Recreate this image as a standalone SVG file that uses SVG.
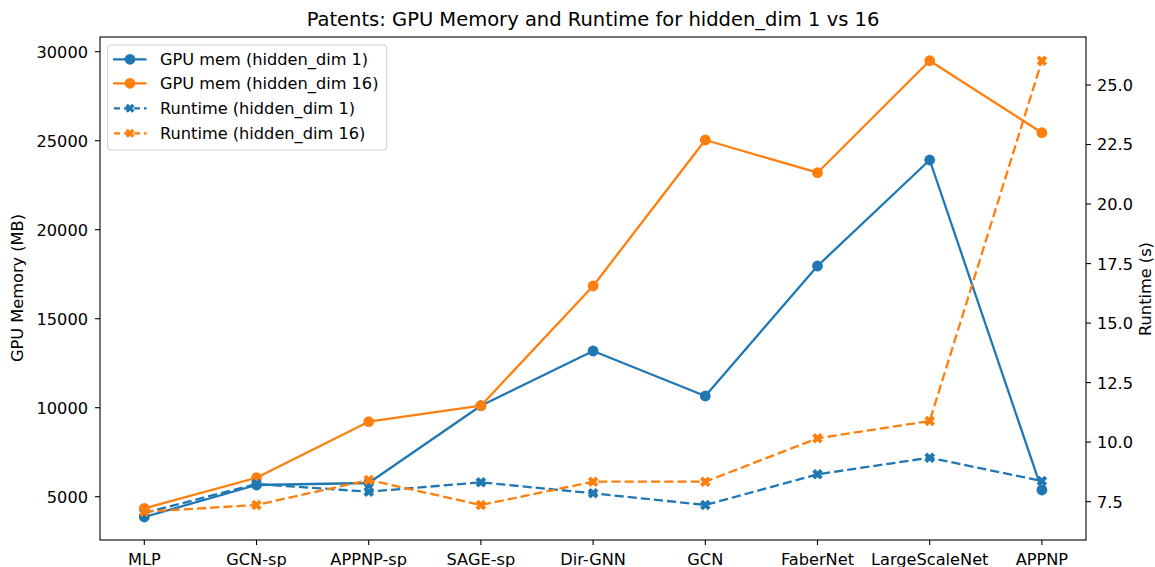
<svg xmlns="http://www.w3.org/2000/svg" xmlns:xlink="http://www.w3.org/1999/xlink" width="1155" height="567" viewBox="0 0 1155 567">
<style>
text{font-family:"DejaVu Sans",sans-serif;fill:#000}
.tick{font-size:16.2px}
.title{font-size:19.5px}
.lbl{font-size:16.2px}
.spine{stroke:#000;stroke-width:1.1;fill:none}
.tk{stroke:#000;stroke-width:1.1}
.solid{fill:none;stroke-width:2.3;stroke-linejoin:round}
.dash{fill:none;stroke-width:2.3;stroke-dasharray:9.2 4;stroke-linejoin:round}
.blue{stroke:#1f77b4;fill:#1f77b4}
.orange{stroke:#ff7f0e;fill:#ff7f0e}
</style>
<defs>
<circle id="dot" r="5.4" stroke="none"/>
<path id="xm" d="M-3.9,-3.9 L3.9,3.9 M-3.9,3.9 L3.9,-3.9" stroke-width="4" fill="none" stroke-linecap="butt"/>
</defs>
<rect width="1155" height="567" fill="#fff"/>
<text class="title" x="593" y="26" text-anchor="middle">Patents: GPU Memory and Runtime for hidden_dim 1 vs 16</text>

<g id="axes">
<rect class="spine" x="100" y="37" width="986" height="503"/>
<g id="left-ticks">
<line class="tk" x1="95" y1="51.7" x2="100" y2="51.7"/>
<line class="tk" x1="95" y1="140.7" x2="100" y2="140.7"/>
<line class="tk" x1="95" y1="229.7" x2="100" y2="229.7"/>
<line class="tk" x1="95" y1="318.7" x2="100" y2="318.7"/>
<line class="tk" x1="95" y1="407.7" x2="100" y2="407.7"/>
<line class="tk" x1="95" y1="496.7" x2="100" y2="496.7"/>
<text class="tick" x="88" y="57.6" text-anchor="end">30000</text>
<text class="tick" x="88" y="146.6" text-anchor="end">25000</text>
<text class="tick" x="88" y="235.6" text-anchor="end">20000</text>
<text class="tick" x="88" y="324.6" text-anchor="end">15000</text>
<text class="tick" x="88" y="413.6" text-anchor="end">10000</text>
<text class="tick" x="88" y="502.6" text-anchor="end">5000</text>
</g>
<g id="right-ticks">
<line class="tk" x1="1086" y1="85" x2="1091" y2="85"/>
<line class="tk" x1="1086" y1="144.5" x2="1091" y2="144.5"/>
<line class="tk" x1="1086" y1="204" x2="1091" y2="204"/>
<line class="tk" x1="1086" y1="263.6" x2="1091" y2="263.6"/>
<line class="tk" x1="1086" y1="323.1" x2="1091" y2="323.1"/>
<line class="tk" x1="1086" y1="382.6" x2="1091" y2="382.6"/>
<line class="tk" x1="1086" y1="442.1" x2="1091" y2="442.1"/>
<line class="tk" x1="1086" y1="501.7" x2="1091" y2="501.7"/>
<text class="tick" x="1097" y="90.9">25.0</text>
<text class="tick" x="1097" y="150.4">22.5</text>
<text class="tick" x="1097" y="209.9">20.0</text>
<text class="tick" x="1097" y="269.5">17.5</text>
<text class="tick" x="1097" y="329">15.0</text>
<text class="tick" x="1097" y="388.5">12.5</text>
<text class="tick" x="1097" y="448">10.0</text>
<text class="tick" x="1097" y="507.6">7.5</text>
</g>
<g id="x-ticks">
<line class="tk" x1="144.3" y1="540" x2="144.3" y2="545"/>
<line class="tk" x1="256.5" y1="540" x2="256.5" y2="545"/>
<line class="tk" x1="368.7" y1="540" x2="368.7" y2="545"/>
<line class="tk" x1="480.9" y1="540" x2="480.9" y2="545"/>
<line class="tk" x1="593.1" y1="540" x2="593.1" y2="545"/>
<line class="tk" x1="705.3" y1="540" x2="705.3" y2="545"/>
<line class="tk" x1="817.5" y1="540" x2="817.5" y2="545"/>
<line class="tk" x1="929.7" y1="540" x2="929.7" y2="545"/>
<line class="tk" x1="1041.9" y1="540" x2="1041.9" y2="545"/>
<text class="tick" x="144.3" y="565" text-anchor="middle">MLP</text>
<text class="tick" x="256.5" y="565" text-anchor="middle">GCN-sp</text>
<text class="tick" x="368.7" y="565" text-anchor="middle">APPNP-sp</text>
<text class="tick" x="480.9" y="565" text-anchor="middle">SAGE-sp</text>
<text class="tick" x="593.1" y="565" text-anchor="middle">Dir-GNN</text>
<text class="tick" x="705.3" y="565" text-anchor="middle">GCN</text>
<text class="tick" x="817.5" y="565" text-anchor="middle">FaberNet</text>
<text class="tick" x="929.7" y="565" text-anchor="middle">LargeScaleNet</text>
<text class="tick" x="1041.9" y="565" text-anchor="middle">APPNP</text>
</g>
<text class="lbl" transform="translate(23,288) rotate(-90)" text-anchor="middle">GPU Memory (MB)</text>
<text class="lbl" transform="translate(1151,289) rotate(-90)" text-anchor="middle">Runtime (s)</text>
</g>

<g id="connectors">
<g id="gpu-hd1" class="blue">
<polyline class="solid blue" style="fill:none" points="144.3,517 256.5,485 368.7,483 480.9,405.7 593.1,351 705.3,396 817.5,266 929.7,160 1041.9,490"/>
<use xlink:href="#dot" x="144.3" y="517"/><use xlink:href="#dot" x="256.5" y="485"/><use xlink:href="#dot" x="368.7" y="483"/><use xlink:href="#dot" x="480.9" y="405.7"/><use xlink:href="#dot" x="593.1" y="351"/><use xlink:href="#dot" x="705.3" y="396"/><use xlink:href="#dot" x="817.5" y="266"/><use xlink:href="#dot" x="929.7" y="160"/><use xlink:href="#dot" x="1041.9" y="490"/>
</g>
<g id="gpu-hd16" class="orange">
<polyline class="solid orange" style="fill:none" points="144.3,508.3 256.5,477.7 368.7,421.7 480.9,405.7 593.1,286 705.3,140 817.5,172.7 929.7,60.7 1041.9,132.7"/>
<use xlink:href="#dot" x="144.3" y="508.3"/><use xlink:href="#dot" x="256.5" y="477.7"/><use xlink:href="#dot" x="368.7" y="421.7"/><use xlink:href="#dot" x="480.9" y="405.7"/><use xlink:href="#dot" x="593.1" y="286"/><use xlink:href="#dot" x="705.3" y="140"/><use xlink:href="#dot" x="817.5" y="172.7"/><use xlink:href="#dot" x="929.7" y="60.7"/><use xlink:href="#dot" x="1041.9" y="132.7"/>
</g>
<g id="rt-hd1" class="blue">
<polyline class="dash blue" style="fill:none" points="144.3,513 256.5,484 368.7,491.7 480.9,482.3 593.1,493.3 705.3,505 817.5,474.3 929.7,457.7 1041.9,481"/>
<use xlink:href="#xm" x="144.3" y="513"/><use xlink:href="#xm" x="256.5" y="484"/><use xlink:href="#xm" x="368.7" y="491.7"/><use xlink:href="#xm" x="480.9" y="482.3"/><use xlink:href="#xm" x="593.1" y="493.3"/><use xlink:href="#xm" x="705.3" y="505"/><use xlink:href="#xm" x="817.5" y="474.3"/><use xlink:href="#xm" x="929.7" y="457.7"/><use xlink:href="#xm" x="1041.9" y="481"/>
</g>
<g id="rt-hd16" class="orange">
<polyline class="dash orange" style="fill:none" points="144.3,511.7 256.5,505 368.7,480 480.9,505 593.1,481.7 705.3,481.7 817.5,438.3 929.7,421 1041.9,60.7"/>
<use xlink:href="#xm" x="144.3" y="511.7"/><use xlink:href="#xm" x="256.5" y="505"/><use xlink:href="#xm" x="368.7" y="480"/><use xlink:href="#xm" x="480.9" y="505"/><use xlink:href="#xm" x="593.1" y="481.7"/><use xlink:href="#xm" x="705.3" y="481.7"/><use xlink:href="#xm" x="817.5" y="438.3"/><use xlink:href="#xm" x="929.7" y="421"/><use xlink:href="#xm" x="1041.9" y="60.7"/>
</g>
</g>

<g id="legend">
<rect x="107.7" y="45" width="279" height="105" rx="3" fill="#fff" fill-opacity="0.8" stroke="#cccccc" stroke-width="1"/>
<g class="blue"><line class="solid" x1="113" y1="59.3" x2="146.5" y2="59.3"/><use xlink:href="#dot" x="130" y="59.3"/></g>
<g class="orange"><line class="solid" x1="113" y1="83.3" x2="146.5" y2="83.3"/><use xlink:href="#dot" x="130" y="83.3"/></g>
<g class="blue"><line class="dash" x1="113" y1="108.3" x2="146.5" y2="108.3" style="stroke-dasharray:6 4;stroke-dashoffset:-1"/><use xlink:href="#xm" x="130" y="108.3" transform="translate(130,108.3) scale(0.85) translate(-130,-108.3)"/></g>
<g class="orange"><line class="dash" x1="113" y1="133.3" x2="146.5" y2="133.3" style="stroke-dasharray:6 4;stroke-dashoffset:-1"/><use xlink:href="#xm" x="130" y="133.3" transform="translate(130,133.3) scale(0.85) translate(-130,-133.3)"/></g>
<text class="lbl" x="160" y="65.1">GPU mem (hidden_dim 1)</text>
<text class="lbl" x="160" y="89.1">GPU mem (hidden_dim 16)</text>
<text class="lbl" x="160" y="114.1">Runtime (hidden_dim 1)</text>
<text class="lbl" x="160" y="139.1">Runtime (hidden_dim 16)</text>
</g>
</svg>
